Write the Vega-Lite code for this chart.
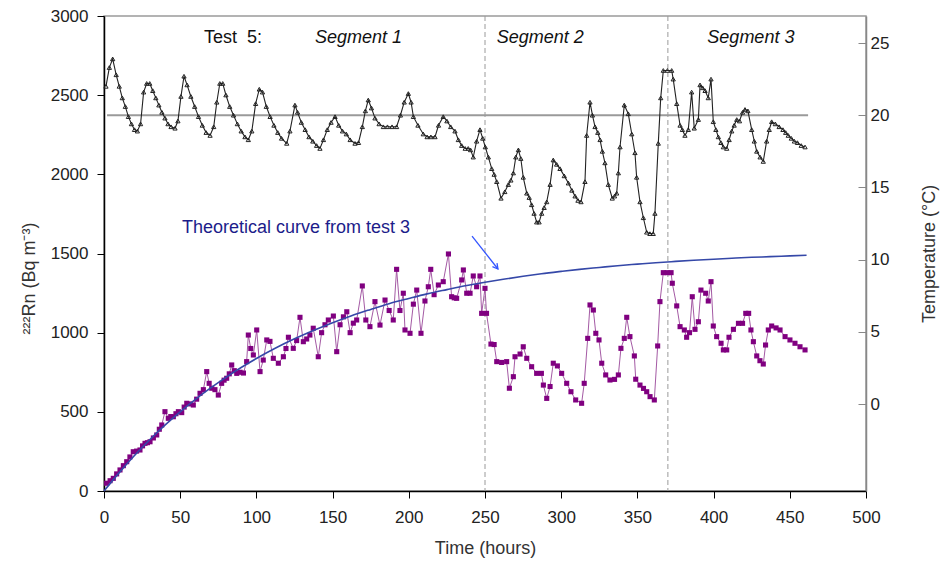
{
  "$schema": "https://vega.github.io/schema/vega-lite/v6.json",
  "width": 762,
  "height": 475,
  "autosize": {"type": "none"},
  "padding": {"left": 104, "top": 16, "right": 77, "bottom": 74},
  "background": "white",
  "config": {
    "font": "Liberation Sans",
    "view": {"stroke": "#9a9a9a", "strokeWidth": 1.5},
    "axis": {"grid": false, "labelFont": "Liberation Sans", "titleFont": "Liberation Sans", "labelFontSize": 17, "titleFontSize": 18, "titleFontWeight": "normal", "labelColor": "#222", "titleColor": "#333"}
  },
  "datasets": {
    "temp": [
      {"t":1.3,"T":22.0},{"t":3.5,"T":23.3},{"t":5.7,"T":23.9},{"t":8,"T":22.8},{"t":10,"T":22.0},{"t":12,"T":21.2},{"t":14,"T":20.6},{"t":16,"T":19.9},{"t":18,"T":19.4},{"t":20,"T":19.0},{"t":21.9,"T":18.9},{"t":24,"T":19.4},{"t":26,"T":21.6},{"t":28,"T":22.2},{"t":30,"T":22.2},{"t":32,"T":21.7},{"t":34,"T":21.2},{"t":36,"T":20.7},{"t":38,"T":20.2},{"t":40,"T":19.8},{"t":42,"T":19.4},{"t":44,"T":19.2},{"t":46.6,"T":19.1},{"t":48.5,"T":19.6},{"t":50.5,"T":21.3},{"t":52.5,"T":22.7},{"t":54.5,"T":22.1},{"t":57,"T":21.3},{"t":59.5,"T":20.6},{"t":62,"T":19.9},{"t":64.5,"T":19.3},{"t":67,"T":18.8},{"t":69.6,"T":18.6},{"t":72,"T":19.2},{"t":74,"T":20.9},{"t":76,"T":22.2},{"t":77.9,"T":22.2},{"t":80,"T":21.4},{"t":82.5,"T":20.6},{"t":85,"T":20.0},{"t":87.5,"T":19.4},{"t":90,"T":18.9},{"t":92.5,"T":18.5},{"t":94.7,"T":18.3},{"t":97,"T":18.9},{"t":99.5,"T":20.8},{"t":101.9,"T":21.8},{"t":104,"T":21.6},{"t":106.5,"T":20.6},{"t":109,"T":19.9},{"t":111.5,"T":19.3},{"t":114,"T":18.8},{"t":116.5,"T":18.4},{"t":119.9,"T":18.05},{"t":122,"T":18.9},{"t":125.3,"T":20.7},{"t":127,"T":20.2},{"t":129.5,"T":19.5},{"t":132,"T":19.0},{"t":134.5,"T":18.5},{"t":137,"T":18.2},{"t":139.5,"T":17.9},{"t":141.7,"T":17.7},{"t":144,"T":18.3},{"t":146.5,"T":19.0},{"t":149,"T":19.5},{"t":151.6,"T":19.9},{"t":154,"T":19.3},{"t":156.5,"T":18.9},{"t":159,"T":18.7},{"t":161.5,"T":18.3},{"t":164.7,"T":18.05},{"t":167,"T":18.1},{"t":169.5,"T":19.2},{"t":171.5,"T":20.3},{"t":173.4,"T":21.05},{"t":175.5,"T":20.5},{"t":177.8,"T":19.8},{"t":180.5,"T":19.4},{"t":183.3,"T":19.2},{"t":186,"T":19.2},{"t":189,"T":19.2},{"t":192,"T":19.2},{"t":194.5,"T":20.0},{"t":197,"T":20.9},{"t":199.7,"T":21.5},{"t":201.5,"T":20.9},{"t":203,"T":19.9},{"t":206,"T":19.3},{"t":209.5,"T":18.7},{"t":212,"T":18.5},{"t":214.5,"T":18.5},{"t":217.2,"T":18.5},{"t":219.5,"T":19.3},{"t":222.6,"T":19.9},{"t":225,"T":19.6},{"t":227.5,"T":19.2},{"t":230.3,"T":18.9},{"t":232.5,"T":18.3},{"t":234.7,"T":17.9},{"t":237,"T":17.7},{"t":239,"T":17.7},{"t":240.5,"T":17.6},{"t":242.3,"T":17.1},{"t":244.5,"T":18.2},{"t":246.7,"T":19.0},{"t":248.5,"T":18.4},{"t":250.2,"T":17.8},{"t":252.2,"T":17.1},{"t":254.4,"T":16.3},{"t":256,"T":15.9},{"t":257.7,"T":15.4},{"t":260.5,"T":14.25},{"t":263,"T":14.7},{"t":265.3,"T":15.2},{"t":267,"T":15.5},{"t":268.6,"T":16.0},{"t":270.2,"T":17.1},{"t":271.9,"T":17.6},{"t":273.5,"T":17.0},{"t":275.1,"T":15.7},{"t":277.4,"T":14.6},{"t":279,"T":14.3},{"t":280.6,"T":13.8},{"t":282.2,"T":13.2},{"t":283.9,"T":12.6},{"t":285.5,"T":12.6},{"t":287.2,"T":13.2},{"t":288.8,"T":13.6},{"t":290.5,"T":14.0},{"t":292.7,"T":15.2},{"t":294.8,"T":16.9},{"t":297,"T":16.6},{"t":299.2,"T":16.3},{"t":302,"T":15.8},{"t":304.7,"T":15.3},{"t":307,"T":14.8},{"t":309.1,"T":14.4},{"t":311,"T":14.1},{"t":313,"T":14.0},{"t":315.6,"T":15.4},{"t":316.7,"T":18.6},{"t":318.9,"T":20.9},{"t":320.5,"T":20.0},{"t":322.2,"T":19.2},{"t":324,"T":18.8},{"t":325.5,"T":18.3},{"t":327,"T":17.5},{"t":328.7,"T":16.7},{"t":330.9,"T":15.2},{"t":333.5,"T":14.25},{"t":335,"T":14.4},{"t":336.4,"T":14.6},{"t":337.5,"T":16.0},{"t":338.6,"T":17.8},{"t":341.4,"T":20.7},{"t":344,"T":20.1},{"t":346.3,"T":18.7},{"t":348.4,"T":17.4},{"t":349.5,"T":15.7},{"t":351.7,"T":14.0},{"t":353.9,"T":12.9},{"t":356.1,"T":11.9},{"t":358.2,"T":11.8},{"t":360.4,"T":11.8},{"t":361.5,"T":13.2},{"t":363.7,"T":18.05},{"t":365.3,"T":21.2},{"t":367,"T":23.1},{"t":369.7,"T":23.1},{"t":372.5,"T":23.1},{"t":373.5,"T":22.5},{"t":375.8,"T":20.8},{"t":378,"T":19.3},{"t":379.5,"T":19.0},{"t":381.2,"T":18.6},{"t":383.4,"T":19.0},{"t":385.6,"T":21.6},{"t":387.3,"T":19.1},{"t":390,"T":19.7},{"t":391.1,"T":22.1},{"t":392.8,"T":21.9},{"t":394.4,"T":21.7},{"t":396.5,"T":21.2},{"t":398.3,"T":22.5},{"t":399.8,"T":19.55},{"t":401.5,"T":19.0},{"t":403.1,"T":18.5},{"t":404.8,"T":18.1},{"t":406.4,"T":17.8},{"t":408.6,"T":17.7},{"t":410.2,"T":18.3},{"t":411.9,"T":18.9},{"t":413.5,"T":19.3},{"t":415.2,"T":19.7},{"t":417,"T":19.6},{"t":419,"T":20.2},{"t":420.6,"T":20.4},{"t":422.5,"T":20.3},{"t":425,"T":19.0},{"t":426.7,"T":18.2},{"t":428.3,"T":17.5},{"t":430.5,"T":17.1},{"t":432.6,"T":16.8},{"t":434.8,"T":18.2},{"t":436.5,"T":19.0},{"t":438.1,"T":19.55},{"t":440.5,"T":19.4},{"t":443,"T":19.2},{"t":445.5,"T":19.0},{"t":447.3,"T":18.8},{"t":449,"T":18.6},{"t":451,"T":18.4},{"t":453,"T":18.2},{"t":455,"T":18.1},{"t":457.5,"T":17.9},{"t":460,"T":17.8}
    ],
    "radon": [
      {"t":1.7,"R":49},{"t":4,"R":65},{"t":6.1,"R":80},{"t":8.3,"R":108},{"t":10.5,"R":133},{"t":12.7,"R":160},{"t":14.9,"R":185},{"t":17,"R":215},{"t":19.2,"R":248},{"t":21.4,"R":252},{"t":23.6,"R":259},{"t":25.3,"R":285},{"t":26.9,"R":301},{"t":28.5,"R":305},{"t":30.2,"R":311},{"t":32.4,"R":335},{"t":34.6,"R":354},{"t":36.3,"R":390},{"t":37.9,"R":417},{"t":40,"R":501},{"t":42.2,"R":459},{"t":43.8,"R":470},{"t":45.5,"R":469},{"t":47.2,"R":488},{"t":48.8,"R":501},{"t":51,"R":495},{"t":52.6,"R":530},{"t":54.3,"R":554},{"t":56.5,"R":550},{"t":58.6,"R":543},{"t":60.8,"R":580},{"t":63,"R":617},{"t":65.2,"R":640},{"t":67.4,"R":754},{"t":69,"R":680},{"t":70.7,"R":649},{"t":72.8,"R":640},{"t":75,"R":606},{"t":77.2,"R":680},{"t":78.8,"R":700},{"t":80.5,"R":712},{"t":82.2,"R":740},{"t":83.8,"R":796},{"t":85.5,"R":760},{"t":87.1,"R":743},{"t":89.3,"R":750},{"t":91.5,"R":745},{"t":93.6,"R":817},{"t":94.7,"R":985},{"t":96.3,"R":900},{"t":98,"R":859},{"t":100.2,"R":1017},{"t":102.4,"R":754},{"t":104.5,"R":827},{"t":106.8,"R":954},{"t":108.9,"R":945},{"t":111.1,"R":838},{"t":114.4,"R":807},{"t":117.7,"R":848},{"t":119.4,"R":900},{"t":121,"R":971},{"t":124.2,"R":901},{"t":126.4,"R":950},{"t":128.6,"R":1097},{"t":130.8,"R":943},{"t":133,"R":960},{"t":135.1,"R":985},{"t":137.3,"R":1028},{"t":140.6,"R":848},{"t":142.8,"R":1000},{"t":145,"R":1050},{"t":147.2,"R":1080},{"t":150.5,"R":1105},{"t":152.7,"R":880},{"t":154.9,"R":1050},{"t":157.1,"R":1100},{"t":159.3,"R":1132},{"t":161.5,"R":1000},{"t":163.6,"R":1060},{"t":165.8,"R":1080},{"t":169.5,"R":1295},{"t":171.8,"R":1080},{"t":174.5,"R":1038},{"t":177.8,"R":1196},{"t":181.1,"R":1048},{"t":184.4,"R":1206},{"t":187.1,"R":1140},{"t":189.8,"R":1080},{"t":192,"R":1400},{"t":194.2,"R":1140},{"t":196.4,"R":1249},{"t":197.5,"R":1017},{"t":200.8,"R":996},{"t":203,"R":1180},{"t":205.2,"R":1269},{"t":208,"R":996},{"t":210.6,"R":1200},{"t":212.8,"R":1290},{"t":214.4,"R":1400},{"t":216.6,"R":1240},{"t":219.4,"R":1301},{"t":222.6,"R":1322},{"t":226,"R":1497},{"t":228.1,"R":1227},{"t":229.8,"R":1220},{"t":231.4,"R":1217},{"t":234.7,"R":1333},{"t":235.8,"R":1396},{"t":238,"R":1249},{"t":240.2,"R":1249},{"t":242.3,"R":1358},{"t":244.5,"R":1290},{"t":246.7,"R":1358},{"t":247.8,"R":1122},{"t":250,"R":1280},{"t":251,"R":1122},{"t":253.9,"R":928},{"t":256,"R":925},{"t":257.7,"R":817},{"t":260.9,"R":812},{"t":264.2,"R":817},{"t":266,"R":649},{"t":268.6,"R":722},{"t":269.7,"R":848},{"t":273,"R":865},{"t":275.1,"R":911},{"t":277.4,"R":838},{"t":280.6,"R":785},{"t":283.9,"R":743},{"t":287,"R":743},{"t":288.3,"R":669},{"t":290.5,"R":585},{"t":292.7,"R":660},{"t":294.8,"R":807},{"t":297.5,"R":790},{"t":300.3,"R":743},{"t":303.6,"R":680},{"t":306.4,"R":627},{"t":309.5,"R":575},{"t":313.4,"R":554},{"t":315.1,"R":680},{"t":317.4,"R":964},{"t":318.9,"R":1175},{"t":321.1,"R":1143},{"t":322.7,"R":996},{"t":324.8,"R":954},{"t":326.6,"R":807},{"t":329.2,"R":733},{"t":332,"R":701},{"t":335,"R":705},{"t":337.5,"R":733},{"t":339.2,"R":901},{"t":341.4,"R":964},{"t":343,"R":1097},{"t":345.1,"R":975},{"t":348,"R":853},{"t":348.9,"R":706},{"t":351.7,"R":669},{"t":354,"R":648},{"t":356.1,"R":627},{"t":358.3,"R":596},{"t":361.1,"R":575},{"t":363.3,"R":916},{"t":364.8,"R":1196},{"t":367,"R":1379},{"t":369.5,"R":1379},{"t":372.1,"R":1379},{"t":372.9,"R":1312},{"t":375.8,"R":1169},{"t":378,"R":1038},{"t":380.8,"R":1017},{"t":382.3,"R":971},{"t":384.2,"R":1000},{"t":386,"R":1227},{"t":387.8,"R":1021},{"t":390,"R":1069},{"t":391.7,"R":1269},{"t":394.8,"R":1249},{"t":396.5,"R":1200},{"t":398.3,"R":1322},{"t":399.8,"R":1042},{"t":402,"R":975},{"t":404.9,"R":933},{"t":406.4,"R":891},{"t":408.6,"R":891},{"t":410.1,"R":971},{"t":413,"R":1021},{"t":416.3,"R":1059},{"t":419,"R":1059},{"t":421.1,"R":1122},{"t":423,"R":1122},{"t":424.5,"R":1017},{"t":426.1,"R":943},{"t":428.3,"R":853},{"t":430.4,"R":823},{"t":432.6,"R":802},{"t":434.1,"R":922},{"t":435.9,"R":1017},{"t":438.1,"R":1042},{"t":441,"R":1030},{"t":443.6,"R":1017},{"t":446.9,"R":975},{"t":450.1,"R":954},{"t":453.4,"R":933},{"t":456.7,"R":911},{"t":460,"R":891}
    ],
    "theory": [
      {"t":0,"C":0},{"t":10,"C":116},{"t":20,"C":224},{"t":30,"C":324},{"t":40,"C":416},{"t":50,"C":500},{"t":60,"C":579},{"t":70,"C":651},{"t":80,"C":718},{"t":90,"C":780},{"t":100,"C":837},{"t":112,"C":900},{"t":125,"C":961},{"t":137,"C":1012},{"t":150,"C":1063},{"t":162,"C":1106},{"t":175,"C":1147},{"t":187,"C":1183},{"t":200,"C":1216},{"t":212,"C":1245},{"t":225,"C":1272},{"t":237,"C":1296},{"t":250,"C":1318},{"t":262,"C":1337},{"t":275,"C":1356},{"t":287,"C":1372},{"t":300,"C":1387},{"t":312,"C":1400},{"t":325,"C":1412},{"t":337,"C":1423},{"t":350,"C":1433},{"t":362,"C":1442},{"t":375,"C":1450},{"t":387,"C":1457},{"t":400,"C":1464},{"t":412,"C":1470},{"t":425,"C":1476},{"t":437,"C":1480},{"t":450,"C":1485},{"t":461,"C":1489}
    ]
  },
  "layer": [
    {
      "layer": [
        {
          "data": {"values": [{}]},
          "mark": {"type": "rule", "color": "#9a9a9a", "strokeWidth": 1, "strokeDash": [5, 3]},
          "encoding": {"x": {"datum": 250, "type": "quantitative", "scale": {"domain": [0, 500], "nice": false}}}
        },
        {
          "data": {"values": [{}]},
          "mark": {"type": "rule", "color": "#9a9a9a", "strokeWidth": 1, "strokeDash": [5, 3]},
          "encoding": {"x": {"datum": 370, "type": "quantitative"}}
        },
        {
          "data": {"name": "radon"},
          "mark": {"type": "line", "color": "#a45aa4", "strokeWidth": 1},
          "encoding": {
            "x": {"field": "t", "type": "quantitative", "scale": {"domain": [0, 500], "nice": false},
              "axis": {"values": [0,50,100,150,200,250,300,350,400,450,500], "format": "d", "title": "Time (hours)", "domainColor": "#000", "domainWidth": 1.5, "tickColor": "#000", "tickSize": 7, "labelPadding": 11, "titlePadding": 14, "labelFlush": false}},
            "y": {"field": "R", "type": "quantitative", "scale": {"domain": [0, 3000], "nice": false},
              "axis": {"values": [0,500,1000,1500,2000,2500,3000], "format": "d", "title": "²²²Rn (Bq m⁻³)", "titleY": 262, "domainColor": "#000", "domainWidth": 1.5, "tickColor": "#000", "tickSize": 7, "labelPadding": 9, "titlePadding": 12, "labelFlush": false}}
          }
        },
        {
          "data": {"name": "radon"},
          "mark": {"type": "point", "shape": "square", "filled": true, "color": "#800080", "size": 26, "opacity": 1},
          "encoding": {
            "x": {"field": "t", "type": "quantitative"},
            "y": {"field": "R", "type": "quantitative", "title": "²²²Rn (Bq m⁻³)"}
          }
        },
        {
          "data": {"name": "theory"},
          "mark": {"type": "line", "color": "#3548a8", "strokeWidth": 1.6, "interpolate": "monotone"},
          "encoding": {
            "x": {"field": "t", "type": "quantitative"},
            "y": {"field": "C", "type": "quantitative", "title": "²²²Rn (Bq m⁻³)"}
          }
        },
        {
          "data": {"values": [{}]},
          "mark": {"type": "rule", "color": "#3355ff", "strokeWidth": 1.3},
          "encoding": {
            "x": {"datum": 241.5, "type": "quantitative"}, "x2": {"datum": 258.5},
            "y": {"datum": 1610, "type": "quantitative", "title": "²²²Rn (Bq m⁻³)"}, "y2": {"datum": 1402}
          }
        },
        {
          "data": {"values": [{}]},
          "mark": {"type": "point", "shape": "M-0.55,-1L0,0L0.55,-1", "filled": false, "stroke": "#3355ff", "strokeWidth": 1.3, "size": 110, "angle": -38, "opacity": 1},
          "encoding": {
            "x": {"datum": 258.5, "type": "quantitative"},
            "y": {"datum": 1402, "type": "quantitative", "title": "²²²Rn (Bq m⁻³)"}
          }
        },
        {
          "data": {"values": [{}]},
          "mark": {"type": "text", "text": "Test\u00a0\u00a05:", "align": "left", "baseline": "middle", "fontSize": 18, "color": "#111"},
          "encoding": {"x": {"datum": 65.6, "type": "quantitative"}, "y": {"datum": 2862, "type": "quantitative", "title": "²²²Rn (Bq m⁻³)"}}
        },
        {
          "data": {"values": [{}]},
          "mark": {"type": "text", "text": "Segment 1", "align": "left", "baseline": "middle", "fontSize": 18, "fontStyle": "italic", "color": "#111"},
          "encoding": {"x": {"datum": 138.5, "type": "quantitative"}, "y": {"datum": 2862, "type": "quantitative", "title": "²²²Rn (Bq m⁻³)"}}
        },
        {
          "data": {"values": [{}]},
          "mark": {"type": "text", "text": "Segment 2", "align": "left", "baseline": "middle", "fontSize": 18, "fontStyle": "italic", "color": "#111"},
          "encoding": {"x": {"datum": 257.7, "type": "quantitative"}, "y": {"datum": 2862, "type": "quantitative", "title": "²²²Rn (Bq m⁻³)"}}
        },
        {
          "data": {"values": [{}]},
          "mark": {"type": "text", "text": "Segment 3", "align": "left", "baseline": "middle", "fontSize": 18, "fontStyle": "italic", "color": "#111"},
          "encoding": {"x": {"datum": 395.9, "type": "quantitative"}, "y": {"datum": 2862, "type": "quantitative", "title": "²²²Rn (Bq m⁻³)"}}
        },
        {
          "data": {"values": [{}]},
          "mark": {"type": "text", "text": "Theoretical curve from test 3", "align": "left", "baseline": "middle", "fontSize": 18, "color": "#1c1c8a"},
          "encoding": {"x": {"datum": 51.2, "type": "quantitative"}, "y": {"datum": 1661, "type": "quantitative", "title": "²²²Rn (Bq m⁻³)"}}
        }
      ]
    },
    {
      "layer": [
        {
          "data": {"values": [{}]},
          "mark": {"type": "rule", "color": "#9a9a9a", "strokeWidth": 2},
          "encoding": {
            "x": {"datum": 2, "type": "quantitative"}, "x2": {"datum": 462},
            "y": {"datum": 20, "type": "quantitative", "title": "Temperature (°C)"}
          }
        },
        {
          "data": {"name": "temp"},
          "mark": {"type": "line", "color": "#222", "strokeWidth": 1.1},
          "encoding": {
            "x": {"field": "t", "type": "quantitative"},
            "y": {"field": "T", "type": "quantitative", "scale": {"domain": [-6.02, 26.87], "nice": false, "zero": false},
              "axis": {"orient": "right", "values": [0,5,10,15,20,25], "title": "Temperature (°C)", "titleAngle": 270, "domainColor": "#888", "domainWidth": 1.5, "tickColor": "#888", "tickSize": -8, "labelPadding": 12, "titlePadding": 50, "labelFlush": false}}
          }
        },
        {
          "data": {"name": "temp"},
          "mark": {"type": "point", "shape": "triangle-up", "filled": false, "stroke": "#222", "strokeWidth": 1, "size": 18, "opacity": 1},
          "encoding": {
            "x": {"field": "t", "type": "quantitative"},
            "y": {"field": "T", "type": "quantitative", "title": "Temperature (°C)"}
          }
        }
      ]
    }
  ],
  "resolve": {"scale": {"y": "independent"}}
}
